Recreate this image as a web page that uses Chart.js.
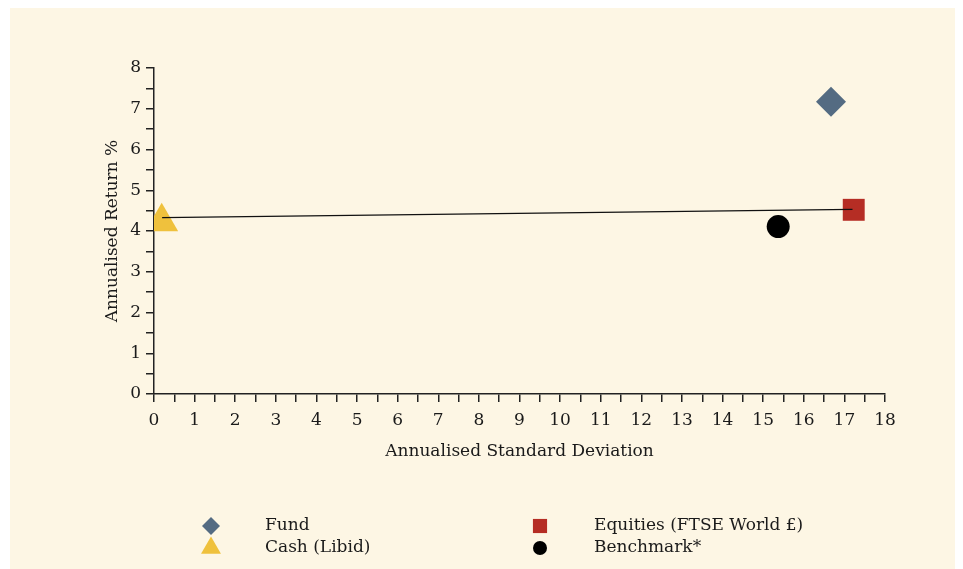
<!DOCTYPE html>
<html>
<head>
<meta charset="utf-8">
<script src="https://cdn.jsdelivr.net/npm/chart.js@4.4.0/dist/chart.umd.min.js"></script>
<style>
  html, body { margin: 0; padding: 0; background: #fff; }
  #panel { position: absolute; left: 10px; top: 8px; width: 945px; height: 561px; background: #fdf6e4; }
  #wrap { position: absolute; left: 0; top: 0; width: 963px; height: 569px; }
</style>
</head>
<body>
<div id="panel"></div>
<div id="wrap"><canvas id="riskChart"></canvas></div>
<script>
// Werte
const seriesNames = ['Fund', 'Equities (FTSE World £)', 'Cash (Libid)', 'Benchmark*'];
const stdDev = [16.67, 17.23, 0.19, 15.37];
const annReturn = [7.17, 4.52, 4.23, 4.11];
const seriesColors = ['#546b82', '#b52d24', '#efc13d', '#000000'];
const seriesStyles = ['rectRot', 'rect', 'triangle', 'circle'];
const seriesRadius = [15, 15.5, 19, 11.5];
const legendRadius = [9, 10, 11.5, 7];

// Linie zwischen Cash und Equities
const lineStdDev = [0.2, 17.2];
const lineReturn = [4.33, 4.53];

const xMin = 0, xMax = 18, yMin = 0, yMax = 8;

const serif = { family: "'DejaVu Serif', serif", size: 17 };
const inkColor = '#1a1a1a';

const pointSets = seriesNames.map((name, i) => ({
    type: 'scatter',
    label: name,
    data: [{ x: stdDev[i], y: annReturn[i] }],
    pointStyle: seriesStyles[i],
    pointRadius: seriesRadius[i],
    pointHoverRadius: seriesRadius[i],
    backgroundColor: seriesColors[i],
    borderWidth: 0
}));

// Legende in zwei Spalten, auf das Canvas gezeichnet
const legendGrid = {
    id: 'legendGrid',
    afterDraw(chart) {
        const ctx = chart.ctx;
        const cols = [211, 540];
        const rows = [526, 548];
        ctx.save();
        pointSets.forEach((ds, i) => {
            const x = cols[i % 2];
            const y = rows[Math.floor(i / 2)];
            ctx.fillStyle = ds.backgroundColor;
            Chart.helpers.drawPoint(ctx, { pointStyle: ds.pointStyle, radius: legendRadius[i], rotation: 0, borderWidth: 0 }, x, y);
            ctx.fillStyle = inkColor;
            ctx.font = "17px 'DejaVu Serif', serif";
            ctx.textBaseline = 'middle';
            ctx.textAlign = 'left';
            ctx.fillText(ds.label, x + 54, y);
        });
        ctx.restore();
    }
};

const axisGrid = {
    drawOnChartArea: false,
    drawTicks: true,
    tickLength: 8,
    color: '#222',
    lineWidth: 1.5
};

new Chart(document.getElementById('riskChart'), {
    data: {
        datasets: [
            {
                type: 'line',
                label: 'line',
                data: lineStdDev.map((x, i) => ({ x: x, y: lineReturn[i] })),
                borderColor: '#111',
                borderWidth: 1.2,
                pointRadius: 0,
                fill: false
            },
            ...pointSets
        ]
    },
    options: {
        responsive: true,
        maintainAspectRatio: false,
        animation: false,
        layout: { padding: { left: 95, right: 78, top: 68, bottom: 95 } },
        plugins: {
            legend: { display: false },
            tooltip: { enabled: false }
        },
        scales: {
            x: {
                type: 'linear',
                min: xMin,
                max: xMax,
                afterFit: s => { s.height = 80; },
                grid: axisGrid,
                border: { color: '#222', width: 1.5 },
                ticks: {
                    stepSize: 0.5,
                    autoSkip: false,
                    maxRotation: 0,
                    padding: 8,
                    color: inkColor,
                    font: serif,
                    callback: v => Number.isInteger(v) ? v : ''
                },
                title: {
                    display: true,
                    text: 'Annualised Standard Deviation',
                    color: inkColor,
                    font: serif,
                    padding: { top: 4, bottom: 12 }
                }
            },
            y: {
                type: 'linear',
                min: yMin,
                max: yMax,
                afterFit: s => { s.width = 59; },
                grid: axisGrid,
                border: { color: '#222', width: 1.5 },
                ticks: {
                    stepSize: 0.5,
                    autoSkip: false,
                    padding: 5,
                    color: inkColor,
                    font: serif,
                    callback: v => Number.isInteger(v) ? v : ''
                },
                title: {
                    display: true,
                    text: 'Annualised Return %',
                    color: inkColor,
                    font: serif,
                    padding: { top: 7, bottom: 4 }
                }
            }
        }
    },
    plugins: [legendGrid]
});
</script>
</body>
</html>
